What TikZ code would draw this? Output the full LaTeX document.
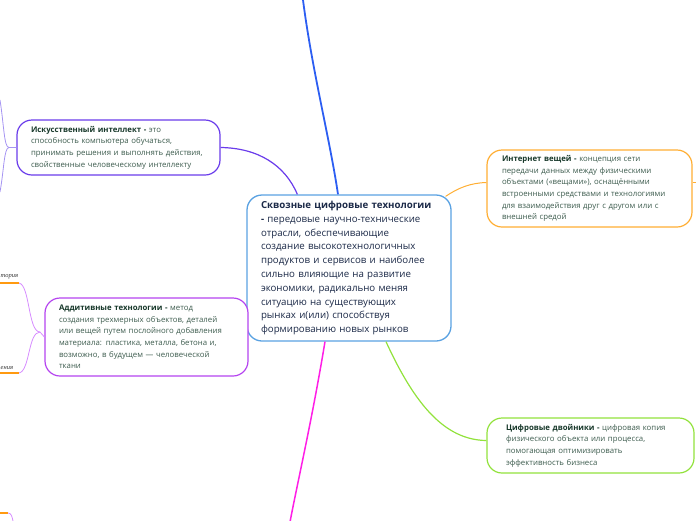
\documentclass[tikz,border=0pt]{standalone}
\usepackage{fontspec}
\setmainfont{Open Sans}
\newfontfamily\lblfont{Liberation Serif}
\usetikzlibrary{calc}
\definecolor{cblue}{HTML}{5AA2E2}
\definecolor{ctext}{HTML}{1C2A48}
\definecolor{bold}{HTML}{17382A}
\definecolor{norm}{HTML}{3D5C4E}
\definecolor{aiC}{HTML}{6A3CEB}
\definecolor{aiL}{HTML}{A594F2}
\definecolor{adC}{HTML}{B544F0}
\definecolor{adL}{HTML}{D68CFF}
\definecolor{ioC}{HTML}{FFAE33}
\definecolor{orC}{HTML}{FF9A10}
\definecolor{twC}{HTML}{92E23C}
\definecolor{topC}{HTML}{2C5EF2}
\definecolor{magC}{HTML}{FF1EE6}
\begin{document}
\begin{tikzpicture}[x=1pt,y=-1pt,
  cbox/.style={draw=cblue, line width=1.3pt, rounded corners=15pt, fill=white, align=left,
    inner ysep=0pt, inner xsep=14pt, text=ctext, font=\fontsize{9.7}{13.8}\selectfont},
  sbox/.style={line width=1.2pt, rounded corners=15pt, fill=white, align=left,
    inner ysep=0pt, inner xsep=14pt, text=norm, font=\fontsize{7.8}{11.6}\selectfont},
  link/.style={line width=1.2pt},
  leaf/.style={line width=0.8pt},
  stub/.style={draw=orC, line width=2.4pt},
  frag/.style={font=\lblfont\itshape\fontsize{6.5}{7}\selectfont, text=black!80, inner sep=0pt}
]
\useasboundingbox (0,0) rectangle (696,520);
\clip (0,0) rectangle (696,520);

\coordinate (top) at (303,0);
\coordinate (bot) at (290,522);

\node[cbox, minimum height=146, text width=176] (c) at (349,268)
{\mbox{\textbf{Сквозные цифровые технологии}}\\
\mbox{\textbf{-} передовые научно-технические}\\
отрасли, обеспечивающие\\
создание высокотехнологичных\\
\mbox{продуктов и сервисов и наиболее}\\
сильно влияющие на развитие\\
экономики, радикально меняя\\
ситуацию на существующих\\
рынках и(или) способствуя\\
формированию новых рынков};

\node[sbox, draw=aiC, minimum height=55, text width=175] (ai) at (118.5,147.5)
{\textcolor{bold}{\textbf{Искусственный интеллект -}} это\\
способность компьютера обучаться,\\
\mbox{принимать решения и выполнять действия,}\\
\mbox{свойственные человеческому интеллекту}};

\node[sbox, draw=adC, minimum height=78, text width=175] (ad) at (146.5,337)
{\textcolor{bold}{\textbf{Аддитивные технологии -}} метод\\
\mbox{создания трехмерных объектов, деталей}\\
\mbox{или вещей путем послойного добавления}\\
\mbox{материала: пластика, металла, бетона и,}\\
возможно, в будущем — человеческой\\
ткани};

\node[sbox, draw=ioC, minimum height=77, text width=175, inner xsep=15pt] (io) at (589.5,188.5)
{\textcolor{bold}{\textbf{Интернет вещей -}} концепция сети\\
передачи данных между физическими\\
\mbox{объектами («вещами»), оснащёнными}\\
\mbox{встроенными средствами и технологиями}\\
\mbox{для взаимодействия друг с другом или с}\\
внешней средой};

\node[sbox, draw=twC, minimum height=55, text width=169, inner xsep=19pt] (tw) at (590.5,445.5)
{\mbox{\textcolor{bold}{\textbf{Цифровые двойники -}} цифровая копия}\\
физического объекта или процесса,\\
помогающая оптимизировать\\
эффективность бизнеса};

% main connectors
\draw[link, draw=topC, line width=1.8pt] (top) .. controls (312,70) and (330,140) .. ($(c.north)+(-11,0)$);
\draw[link, draw=aiC] (ai.east) .. controls (258,148) and (285,165) .. ($(c.north west)+(51,0)$);
\draw[link, draw=ioC, line width=1pt] ($(c.north east)+(-6,2)$) .. controls (458,188) and (470,183) .. ($(io.west)+(0,-6)$);
\draw[link, draw=twC] ($(c.south)+(37,0)$) .. controls (415,405) and (445,440) .. ($(tw.west)+(0,-5)$);
\draw[link, draw=magC, line width=1.5pt] ($(c.south)+(-24,0)$) .. controls (312,420) and (298,480) .. (bot);

% right stub of IoT
\coordinate (ioR) at (697,182);
\draw[link, draw=ioC, line width=1pt] ($(io.east)+(0,-6.5)$) -- (ioR);

% left leaves of AI
\coordinate (aiU) at (0,100);
\coordinate (aiD) at (0,192);
\coordinate (aiJ) at (9,147.5);
\draw[leaf, draw=aiL] (ai.west) -- (aiJ) .. controls (4,147.5) and (4,125) .. (aiU);
\draw[leaf, draw=aiL] (aiJ) .. controls (4,147.5) and (4,170) .. (aiD);

% left leaves of additive
\coordinate (adJ) at (40,332);
\coordinate (adU) at (19,283);
\coordinate (adD) at (19,373);
\coordinate (adU0) at (-1,283);
\coordinate (adD0) at (-1,373);
\draw[leaf, draw=adL] (ad.west) -- (adJ) .. controls (28,332) and (30,285) .. (adU);
\draw[leaf, draw=adL] (adJ) .. controls (28,332) and (30,371) .. (adD);
\draw[stub] (adU0) -- (adU);
\draw[stub] (adD0) -- (adD);
\node[frag, anchor=south west] (f1) at (0.5,279.5) {тория};
\node[frag, anchor=south west] (f2) at (0.5,369.5) {ения};

% bottom-left fragment
\coordinate (blO) at (-1,513);
\coordinate (blE) at (8,513);
\coordinate (blC) at (13,521);
\draw[stub] (blO) -- (blE);
\draw[leaf, draw=adL] (blE) .. controls (11,513) and (12,516) .. (blC);
\end{tikzpicture}
\end{document}
